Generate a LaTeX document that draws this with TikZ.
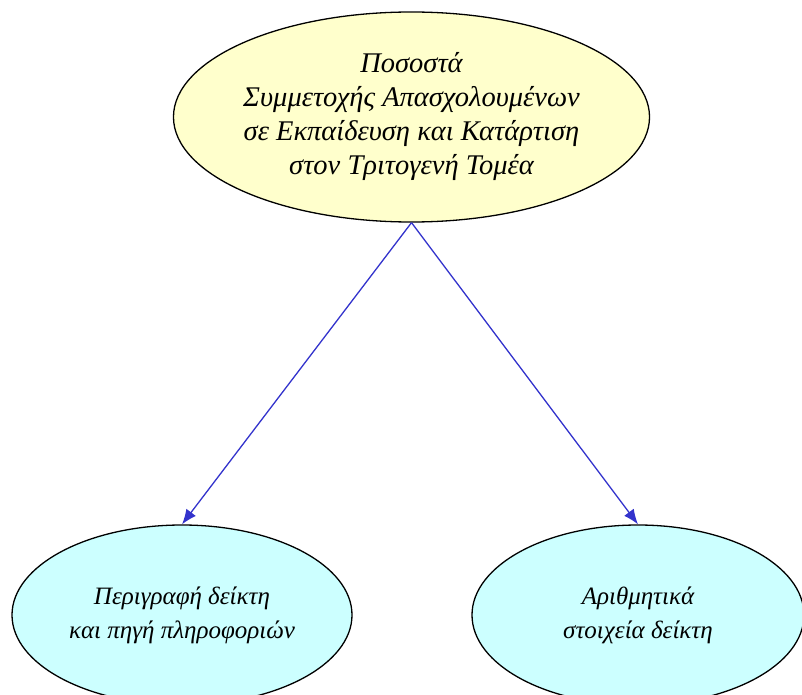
\documentclass[tikz,border=0pt]{standalone}
\usepackage{fontspec}
\setmainfont{Liberation Serif}
\usetikzlibrary{shapes.geometric,arrows.meta}
\begin{document}
\begin{tikzpicture}[x=1pt,y=-1pt]
\definecolor{color0}{HTML}{FFFFCC}
\definecolor{color1}{HTML}{CCFFFF}
\definecolor{color2}{HTML}{3333CC}
\tikzset{
  topic/.style={ellipse,draw=black,line width=1.3pt,fill=color0,inner sep=0pt,
    align=center,font=\itshape\fontsize{28.5}{34}\selectfont},
  part/.style={topic,fill=color1,font=\itshape\fontsize{25}{34}\selectfont},
  link/.style={color2,line width=1.3pt,-{Latex[length=15pt,width=12pt]}}
}
\useasboundingbox (0,0) rectangle (802,695);
\node[topic,minimum width=476,minimum height=210] (indicator) at (411.5,117) {Ποσοστά\\Συμμετοχής Απασχολουμένων\\σε Εκπαίδευση και Κατάρτιση\\στον Τριτογενή Τομέα};
\node[part,minimum width=340,minimum height=180] (describe) at (182,615) {Περιγραφή δείκτη\\και πηγή πληροφοριών};
\node[part,minimum width=332,minimum height=180] (numbers) at (638,615) {Αριθμητικά\\στοιχεία δείκτη};
\draw[link] (indicator.south) -- (describe.north);
\draw[link] (indicator.south) -- (numbers.north);
\end{tikzpicture}
\end{document}
